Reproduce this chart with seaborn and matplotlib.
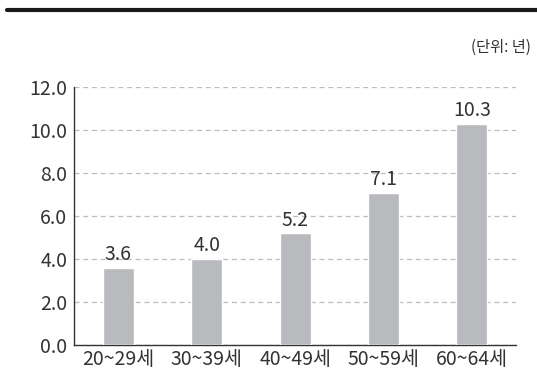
import matplotlib

matplotlib.use("Agg")

import matplotlib.pyplot as plt
import numpy as np
import pandas as pd
import seaborn as sns
from matplotlib.lines import Line2D

age_groups = ["20~29세", "30~39세", "40~49세", "50~59세", "60~64세"]
years = [3.6, 4.0, 5.2, 7.1, 10.3]
y_ticks = [0, 2, 4, 6, 8, 10, 12]

sns.set_theme(style="white")
plt.rcParams["font.family"] = ["Noto Sans CJK KR", "DejaVu Sans"]

text_color = "#333333"
bar_color = "#b9babe"

df = pd.DataFrame({"age": age_groups, "years": years})

fig = plt.figure(figsize=(5.37, 3.81), dpi=100)
ax = fig.add_axes([0.138, 0.094, 0.823, 0.677])

sns.barplot(data=df, x="age", y="years", color=bar_color, width=0.35,
            saturation=1, ax=ax, zorder=3)

for i, v in enumerate(years):
    ax.annotate(f"{v:.1f}", (i, v), xytext=(0, 2), textcoords="offset points",
                ha="center", va="bottom", fontsize=14, color=text_color, zorder=4)

ax.set_ylim(0, 12)
ax.set_xlim(-0.5, len(age_groups) - 0.5)
ax.set_yticks(y_ticks)
ax.set_yticklabels([f"{t:.1f}" for t in y_ticks])
ax.yaxis.grid(True, linestyle=(0, (4, 3)), color="#bdbdbd", linewidth=0.9, zorder=0)
ax.xaxis.grid(False)

ax.set_xticks(np.arange(len(age_groups) + 1) - 0.5, minor=True)
ax.tick_params(axis="x", which="major", length=0, pad=3, labelsize=14, labelcolor=text_color)
ax.tick_params(axis="x", which="minor", direction="in", length=4, width=0.9, color="#333333")
ax.tick_params(axis="y", direction="in", length=3, width=0.9, color="#333333",
               pad=5, labelsize=14, labelcolor=text_color)

for side in ["top", "right"]:
    ax.spines[side].set_visible(False)
for side in ["left", "bottom"]:
    ax.spines[side].set_color("#333333")
    ax.spines[side].set_linewidth(1.0)

ax.set_xlabel("")
ax.set_ylabel("")

fig.add_artist(Line2D([0.013, 1.0], [0.973, 0.973], color="#1a1a1a", linewidth=3,
                      transform=fig.transFigure))
fig.text(0.988, 0.877, "(단위: 년)", ha="right", va="center", fontsize=11,
         color=text_color)

fig.savefig("out.png", dpi=100)
